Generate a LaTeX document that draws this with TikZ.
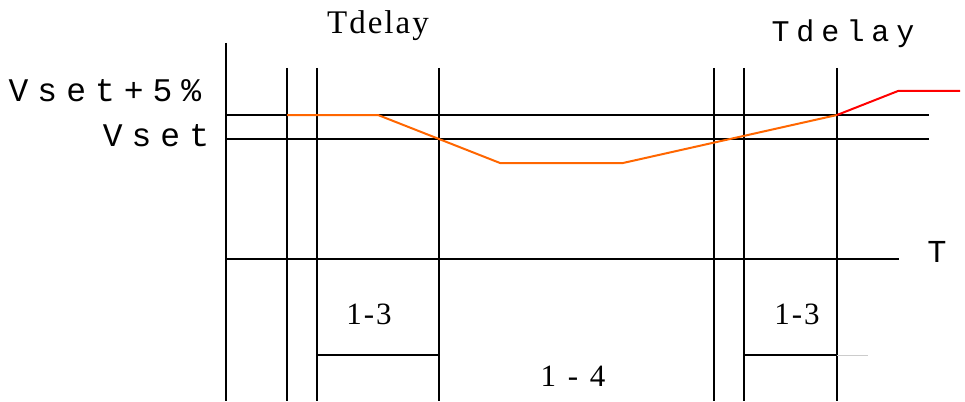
\documentclass[tikz,border=0pt]{standalone}
\usepackage{fontspec}
\setmainfont{Liberation Serif}
\newfontfamily\cour{Liberation Mono}
\definecolor{orangeC}{RGB}{255,102,0}
\begin{document}
\begin{tikzpicture}[x=1pt,y=-1pt,
  axis/.style={line width=2pt,black},
  curve/.style={line width=2pt,color=orangeC},
  hot/.style={line width=2pt,color=red},
  faint/.style={line width=1pt,color=black!20},
  lbl/.style={inner sep=0pt,anchor=center}]
\useasboundingbox (0,0) rectangle (965,401);
% coordinates
\coordinate (a0) at (226,43);  \coordinate (a0b) at (226,401);
\foreach \n/\x in {a1/287,a2/317,a3/439,a4/714,a5/744,a6/837}{
  \coordinate (\n t) at (\x,68); \coordinate (\n b) at (\x,401);}
\coordinate (h1l) at (226,115); \coordinate (h1r) at (929,115);
\coordinate (h2l) at (226,139); \coordinate (h2r) at (929,139);
\coordinate (h3l) at (226,259); \coordinate (h3r) at (899,259);
\coordinate (s1l) at (317,355); \coordinate (s1r) at (439,355);
\coordinate (s2l) at (744,355); \coordinate (s2r) at (837,355);
\coordinate (s2g) at (868,355);
% grid
\draw[axis] (a0) -- (a0b);
\foreach \n in {a1,a2,a3,a4,a5,a6}{\draw[axis] (\n t) -- (\n b);}
\draw[axis] (h1l) -- (h1r);
\draw[axis] (h2l) -- (h2r);
\draw[axis] (h3l) -- (h3r);
\draw[axis] (s1l) -- (s1r);
\draw[axis] (s2l) -- (s2r);
\draw[faint] (s2r) -- (s2g);
% curves
\coordinate (c0) at (287,115); \coordinate (c1) at (378,115);
\coordinate (c2) at (439,139); \coordinate (c3) at (500,163);
\coordinate (c4) at (623,163); \coordinate (c5) at (837,115);
\coordinate (c6) at (898,91);  \coordinate (c7) at (960,91);
\draw[curve,line join=round] (c0) -- (c1) -- (c2) -- (c3) -- (c4) -- (c5);
\draw[hot,line join=round] (c5) -- (c6) -- (c7);
% labels
\node[lbl] (td1) at (378,26) {\fontsize{33}{33}\selectfont T\kern2pt d\kern2pt e\kern2pt l\kern2pt a\kern2pt y};
\node[lbl] (td2) at (843,34) {\cour\fontsize{30}{30}\selectfont T\kern7pt d\kern7pt e\kern7pt l\kern7pt a\kern7pt y};
\node[lbl] (v5) at (105,91) {\cour\fontsize{33}{33}\selectfont V\kern9pt s\kern9pt e\kern9pt t\kern9pt +\kern9pt 5\kern9pt \%};
\node[lbl] (v0) at (156,136) {\cour\fontsize{33}{33}\selectfont V\kern9pt s\kern9pt e\kern9pt t};
\node[lbl] (tt) at (937,252) {\cour\fontsize{32}{32}\selectfont T};
\node[lbl] (r1) at (369,314) {\fontsize{31}{31}\selectfont 1\kern2pt -\kern2pt 3};
\node[lbl] (r2) at (797,314) {\fontsize{31}{31}\selectfont 1\kern2pt -\kern2pt 3};
\node[lbl] (r3) at (573,376) {\fontsize{31}{31}\selectfont 1\kern4pt\ -\kern4pt\ 4};
\end{tikzpicture}
\end{document}
